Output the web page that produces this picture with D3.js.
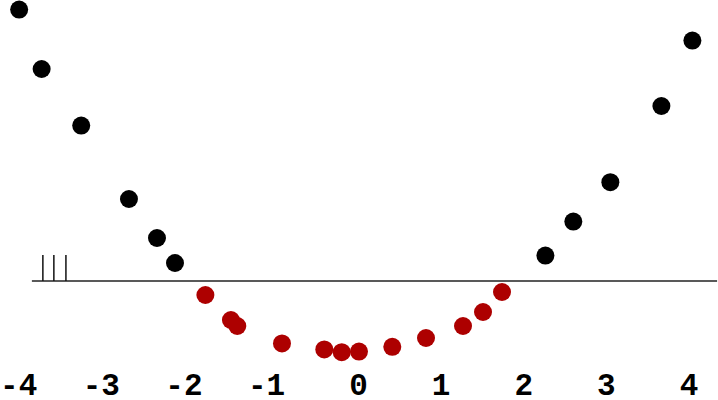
<!DOCTYPE html>
<html>
<head>
<meta charset="utf-8">
<script src="https://cdn.jsdelivr.net/npm/d3@7"></script>
<style>
  html, body { margin: 0; padding: 0; background: #fff; }
  svg { display: block; }
</style>
</head>
<body>
<div id="chart"></div>
<script>
// ---- data ----
const outerX = [-4.107, -3.835, -3.356, -2.778, -2.439, -2.221, 2.262, 2.600, 3.048, 3.666, 4.041];
const outerY = [13.57, 10.60, 7.77, 4.10, 2.15, 0.90, 1.27, 2.97, 4.94, 8.75, 12.02];
const innerX = [-1.853, -1.544, -1.467, -0.926, -0.414, -0.203, 0.006, 0.409, 0.817, 1.265, 1.507, 1.737];
const innerY = [-0.70, -1.95, -2.25, -3.12, -3.42, -3.56, -3.53, -3.29, -2.85, -2.25, -1.55, -0.55];
const rugX = [-3.82, -3.687, -3.541];
const tickValues = [-4, -3, -2, -1, 0, 1, 2, 3, 4];
const axisExtent = [-3.953, 4.34];

const W = 718, H = 400;
const fontSize = 31;
const charW = fontSize * 0.6;

const x = d3.scaleLinear().domain([-4, 4]).range([28, 689]);
const y = d3.scaleLinear().domain([0, 14]).range([281, 1]);

const svg = d3.select("#chart").append("svg")
  .attr("width", W).attr("height", H);

// baseline axis line
svg.append("line")
  .attr("x1", x(axisExtent[0])).attr("x2", x(axisExtent[1]))
  .attr("y1", y(0)).attr("y2", y(0))
  .attr("stroke", "#222").attr("stroke-width", 1.5);

// rug ticks
svg.selectAll("line.rug").data(rugX).enter().append("line")
  .attr("class", "rug")
  .attr("x1", d => x(d)).attr("x2", d => x(d))
  .attr("y1", y(0)).attr("y2", y(0) - 26)
  .attr("stroke", "#111").attr("stroke-width", 1.5);

// points
const outer = outerX.map((v, i) => ({x: v, y: outerY[i]}));
const inner = innerX.map((v, i) => ({x: v, y: innerY[i]}));

svg.selectAll("circle.outer").data(outer).enter().append("circle")
  .attr("class", "outer")
  .attr("cx", d => x(d.x)).attr("cy", d => y(d.y))
  .attr("r", 9).attr("fill", "#000");

svg.selectAll("circle.inner").data(inner).enter().append("circle")
  .attr("class", "inner")
  .attr("cx", d => x(d.x)).attr("cy", d => y(d.y))
  .attr("r", 9).attr("fill", "#ad0000");

// tick labels (digit centred on the tick)
svg.selectAll("text.tick").data(tickValues).enter().append("text")
  .attr("class", "tick")
  .attr("x", d => x(d) + charW / 2)
  .attr("y", 395)
  .attr("text-anchor", "end")
  .attr("font-family", "'Liberation Mono', 'Courier New', monospace")
  .attr("font-weight", "bold")
  .attr("font-size", fontSize)
  .attr("fill", "#000")
  .text(d => (d < 0 ? "-" : "") + Math.abs(d));
</script>
</body>
</html>
